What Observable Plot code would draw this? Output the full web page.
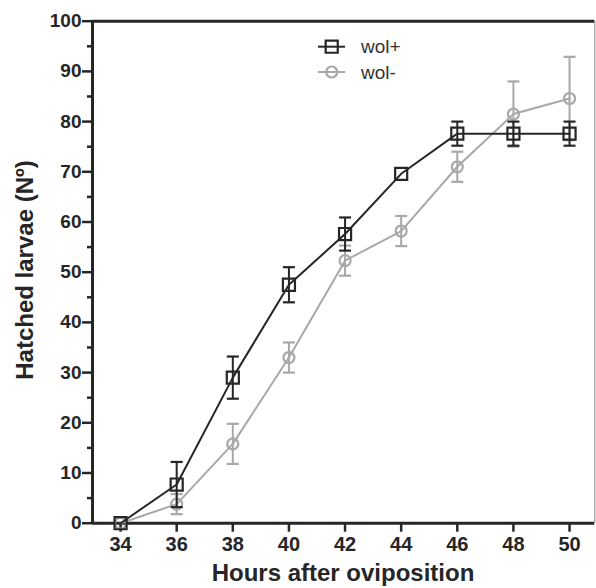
<!DOCTYPE html>
<html>
<head>
<meta charset="utf-8">
<script src="https://cdn.jsdelivr.net/npm/d3@7"></script>
<script src="https://cdn.jsdelivr.net/npm/@observablehq/plot@0.6"></script>
<style>
  html, body { margin: 0; padding: 0; background: #fff; }
</style>
</head>
<body>
<script>
// ---- data ----
const hours = [34, 36, 38, 40, 42, 44, 46, 48, 50];
const wolPlus = [0, 7.7, 29.0, 47.5, 57.6, 69.6, 77.6, 77.6, 77.6];
const wolPlusErr = [0, 4.5, 4.2, 3.5, 3.3, 0, 2.4, 2.4, 2.4];
const wolMinus = [0, 3.8, 15.8, 33.0, 52.3, 58.2, 71.0, 81.5, 84.6];
const wolMinusErr = [0, 2.0, 4.0, 3.0, 3.0, 3.0, 3.0, 6.5, 8.3];
const seriesNames = ["wol+", "wol-"];
const xTicks = [34, 36, 38, 40, 42, 44, 46, 48, 50];
const yTicks = [0, 10, 20, 30, 40, 50, 60, 70, 80, 90, 100];
const yMinorTicks = [5, 15, 25, 35, 45, 55, 65, 75, 85, 95];
const xDomain = [33, 50.9];
const yDomain = [0, 100];
const xTitle = "Hours after oviposition";
const yTitle = "Hatched larvae (Nº)";

const DARK = "#262626";
const GRAY = "#a8a8a8";

const plusRows = hours.map((h, i) => ({h, v: wolPlus[i], e: wolPlusErr[i], s: seriesNames[0]}));
const minusRows = hours.map((h, i) => ({h, v: wolMinus[i], e: wolMinusErr[i], s: seriesNames[1]}));

// horizontal cap symbol (half-width = r)
const capSymbol = {
  draw(context, size) {
    const r = Math.sqrt(size / Math.PI);
    context.moveTo(-r, 0);
    context.lineTo(r, 0);
  }
};

function seriesMarks(rows, color, symbol, r) {
  const withErr = rows.filter(d => d.e > 0);
  return [
    Plot.line(rows, {x: "h", y: "v", stroke: color, strokeWidth: 2}),
    Plot.ruleX(withErr, {x: "h", y1: d => d.v - d.e, y2: d => d.v + d.e, stroke: color, strokeWidth: 2}),
    Plot.dot(withErr, {x: "h", y: d => d.v + d.e, symbol: capSymbol, r: 6, stroke: color, strokeWidth: 2.2}),
    Plot.dot(withErr, {x: "h", y: d => d.v - d.e, symbol: capSymbol, r: 6, stroke: color, strokeWidth: 2.2}),
    Plot.dot(rows, {x: "h", y: "v", symbol, r, stroke: color, fill: "none", strokeWidth: 2.2})
  ];
}

const svg = Plot.plot({
  width: 596,
  height: 588,
  marginLeft: 92,
  marginRight: 1.7,
  marginTop: 20.7,
  marginBottom: 65.3,
  style: {fontFamily: "'Liberation Sans', Arial, sans-serif", background: "#fff", color: DARK, overflow: "visible"},
  x: {domain: xDomain},
  y: {domain: yDomain},
  marks: [
    Plot.axisY(yMinorTicks, {tickSize: 5, text: null, label: null, stroke: DARK, strokeWidth: 2.5}),
    Plot.axisY(yTicks, {tickSize: 10, tickPadding: 1, label: null, stroke: DARK, strokeWidth: 2.5,
      fontSize: 19, fontWeight: "bold", fill: DARK}),
    Plot.axisX(xTicks, {tickSize: 9, tickPadding: 5, label: null, stroke: DARK, strokeWidth: 2.5,
      fontSize: 20, fontWeight: "bold", fill: DARK}),
    Plot.ruleX([xDomain[1]], {stroke: "#9a9a9a", strokeWidth: 1.2}),
    Plot.ruleY([yDomain[1]], {stroke: DARK, strokeWidth: 3}),
    Plot.ruleX([xDomain[0]], {stroke: DARK, strokeWidth: 3}),
    Plot.ruleY([yDomain[0]], {stroke: DARK, strokeWidth: 3}),
    ...seriesMarks(minusRows, GRAY, "circle", 5.5),
    ...seriesMarks(plusRows, DARK, "square", 6.8)
  ]
});

// titles and legend
const g = d3.select(svg);
g.append("text")
  .attr("x", 343).attr("y", 581)
  .attr("text-anchor", "middle")
  .attr("font-size", 24).attr("font-weight", "bold").attr("fill", DARK)
  .text(xTitle);
g.append("text")
  .attr("transform", "translate(32.5,270) rotate(-90)")
  .attr("text-anchor", "middle")
  .attr("font-size", 24).attr("font-weight", "bold").attr("fill", DARK)
  .text(yTitle);

const legend = g.append("g");
const legendItems = [
  {name: seriesNames[0], color: DARK, symbol: d3.symbolSquare, size: Math.PI * 6.8 * 6.8},
  {name: seriesNames[1], color: GRAY, symbol: d3.symbolCircle, size: Math.PI * 5.5 * 5.5}
];
legendItems.forEach((it, i) => {
  const cy = 46.7 + i * 25.3;
  legend.append("line").attr("x1", 318).attr("x2", 345).attr("y1", cy).attr("y2", cy)
    .attr("stroke", it.color).attr("stroke-width", 2);
  legend.append("path").attr("d", d3.symbol(it.symbol, it.size)())
    .attr("transform", `translate(331.7,${cy})`)
    .attr("fill", "none").attr("stroke", it.color).attr("stroke-width", 2.2);
  legend.append("text").attr("x", 361).attr("y", cy + 6.5)
    .attr("text-anchor", "start")
    .attr("font-size", 19).attr("fill", "#333")
    .text(it.name);
});

document.body.append(svg);
</script>
</body>
</html>
